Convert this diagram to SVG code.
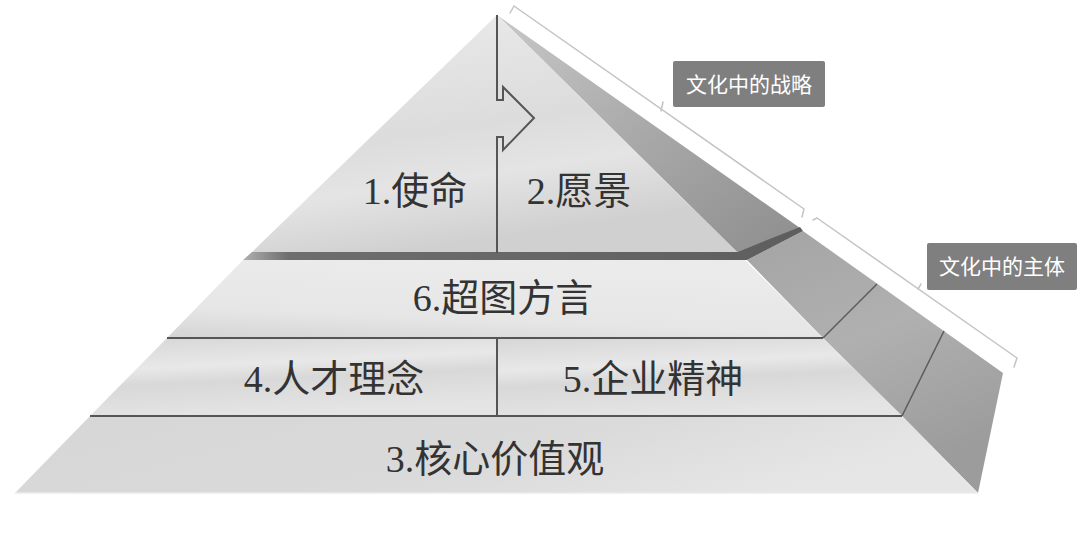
<svg xmlns="http://www.w3.org/2000/svg" width="1080" height="545" viewBox="0 0 1080 545">
  <defs>
    <style>
      .lbl { font-family: "Liberation Serif", "Noto Sans CJK SC", serif; font-size: 38px; fill: #333333; text-anchor: middle; }
      .tag { font-family: "Noto Sans CJK SC", "Noto Sans", sans-serif; font-size: 21px; fill: #ffffff; text-anchor: middle; }
      .tagbox { fill: #7f7f7f; }
      .sep { stroke: #555555; stroke-width: 2; fill: none; }
      .brace { stroke: #c4c4c4; stroke-width: 1.5; fill: none; stroke-linecap: round; stroke-linejoin: round; }
      .edge { stroke: #5a5a5a; stroke-width: 1.5; fill: none; }
    </style>
    <linearGradient id="gTop" x1="0" y1="0" x2="0.3" y2="1">
      <stop offset="0" stop-color="#ececec"/>
      <stop offset="0.55" stop-color="#dcdcdc"/>
      <stop offset="0.75" stop-color="#e4e4e4"/>
      <stop offset="1" stop-color="#d0d0d0"/>
    </linearGradient>
    <linearGradient id="gT2" x1="0" y1="1" x2="0.35" y2="0">
      <stop offset="0" stop-color="#d4d4d4"/>
      <stop offset="0.35" stop-color="#e6e6e6"/>
      <stop offset="1" stop-color="#ebebeb"/>
    </linearGradient>
    <linearGradient id="gT3" x1="0" y1="0" x2="0.25" y2="1">
      <stop offset="0" stop-color="#d6d6d6"/>
      <stop offset="0.4" stop-color="#e8e8e8"/>
      <stop offset="0.6" stop-color="#d8d8d8"/>
      <stop offset="1" stop-color="#e4e4e4"/>
    </linearGradient>
    <linearGradient id="gT4" x1="0" y1="0" x2="1" y2="0.3">
      <stop offset="0" stop-color="#d6d6d6"/>
      <stop offset="0.6" stop-color="#dadada"/>
      <stop offset="1" stop-color="#e6e6e6"/>
    </linearGradient>
    <linearGradient id="gSideTop" x1="0" y1="0" x2="1" y2="1">
      <stop offset="0" stop-color="#c8c8c8"/>
      <stop offset="0.5" stop-color="#a8a8a8"/>
      <stop offset="1" stop-color="#8e8e8e"/>
    </linearGradient>
    <linearGradient id="gSide" x1="0" y1="0" x2="0.4" y2="1">
      <stop offset="0" stop-color="#a4a4a4"/>
      <stop offset="0.5" stop-color="#b0b0b0"/>
      <stop offset="1" stop-color="#9c9c9c"/>
    </linearGradient>
    <linearGradient id="gBand" x1="0" y1="0" x2="1" y2="0">
      <stop offset="0" stop-color="#b0b0b0"/>
      <stop offset="0.08" stop-color="#6e6e6e"/>
      <stop offset="1" stop-color="#5e5e5e"/>
    </linearGradient>
  </defs>

  <rect x="0" y="0" width="1080" height="545" fill="#ffffff"/>

  <!-- side faces -->
  <g id="side-faces">
    <polygon points="497,15 800,228 737,252" fill="url(#gSideTop)"/>
    <polygon points="747,260 803,231 1003,373 978,493 902,416 823,338" fill="url(#gSide)"/>
    <polygon points="252,252 737,252 800,227 803,231 747,260 243,260" fill="url(#gBand)"/>
    <line class="edge" x1="823" y1="338" x2="877" y2="284"/>
    <line class="edge" x1="902" y1="416" x2="944" y2="331"/>
  </g>

  <!-- tier 1 : top triangle -->
  <g id="tier-top">
    <polygon points="497,15 737,252 252,252" fill="url(#gTop)"/>
  </g>
  <g id="node-mission">
    <text class="lbl" x="415" y="204">1.使命</text>
  </g>
  <g id="node-vision">
    <text class="lbl" x="579" y="204">2.愿景</text>
  </g>

  <!-- tier 2 -->
  <g id="node-dialect">
    <polygon points="243,260 745,260 823,338 167,338" fill="url(#gT2)"/>
    <text class="lbl" x="503" y="311">6.超图方言</text>
  </g>

  <!-- tier 3 -->
  <g id="node-talent">
    <polygon points="167,338 497,338 497,416 90,416" fill="url(#gT3)"/>
    <text class="lbl" x="334" y="392">4.人才理念</text>
  </g>
  <g id="node-spirit">
    <polygon points="497,338 823,338 902,416 497,416" fill="url(#gT3)"/>
    <text class="lbl" x="653" y="392">5.企业精神</text>
  </g>

  <!-- tier 4 -->
  <g id="node-values">
    <polygon points="90,416 902,416 978,493 15,493" fill="url(#gT4)"/>
    <line x1="15" y1="493" x2="978" y2="493" stroke="#ebebeb" stroke-width="1.5"/>
    <text class="lbl" x="495" y="472">3.核心价值观</text>
  </g>

  <!-- separators and arrow -->
  <g id="connectors">
    <path class="sep" d="M497,15 V100 H503 V87 L534,118 L503,150 V137 H497 V253"/>
    <line class="sep" x1="167" y1="338" x2="823" y2="338"/>
    <line class="sep" x1="497" y1="338" x2="497" y2="416"/>
    <line class="sep" x1="90" y1="416" x2="902" y2="416"/>
  </g>

  <!-- braces -->
  <g id="brace-strategy">
    <path class="brace" d="M510,13 L514,6 L804,209 L802,217"/>
    <path class="brace" d="M661,111 L663,102"/>
  </g>
  <g id="brace-subject">
    <path class="brace" d="M813,220 L817,218 L1017,358 L1014,367"/>
    <path class="brace" d="M918,289 L921,284"/>
  </g>

  <g id="tag-strategy">
    <rect class="tagbox" x="673" y="61" width="152" height="46" rx="2"/>
    <text class="tag" x="749" y="92">文化中的战略</text>
  </g>
  <g id="tag-subject">
    <rect class="tagbox" x="927" y="243" width="150" height="47" rx="2"/>
    <text class="tag" x="1002" y="274">文化中的主体</text>
  </g>
</svg>
